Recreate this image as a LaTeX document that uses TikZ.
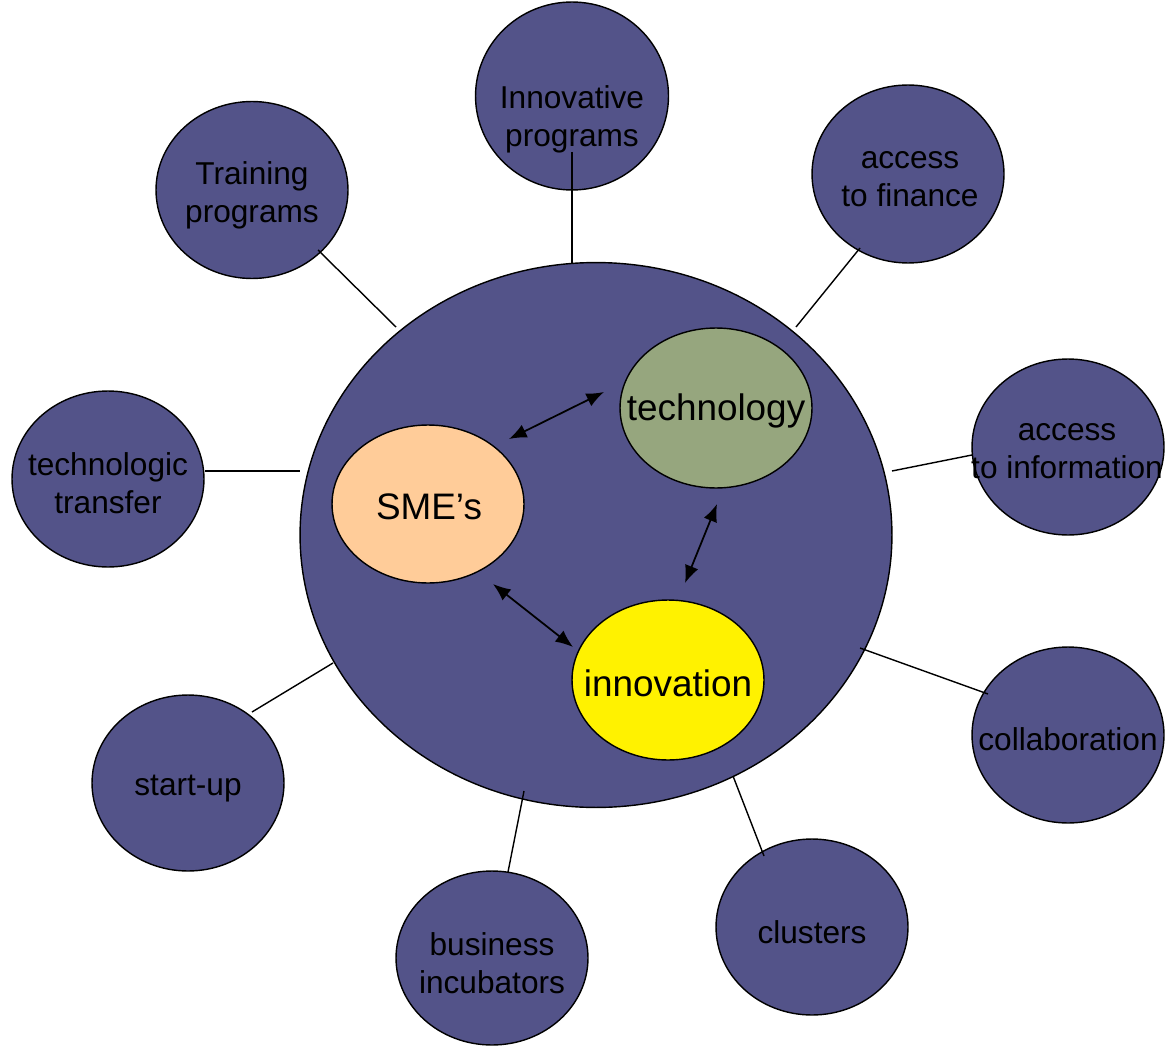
\documentclass[tikz,border=0pt]{standalone}
\usepackage{fontspec}
\setmainfont{Liberation Sans}
\usetikzlibrary{shapes.geometric,arrows.meta}
\definecolor{bigblue}{RGB}{83,83,137}
\definecolor{peach}{RGB}{255,204,153}
\definecolor{techgreen}{RGB}{150,166,126}
\tikzset{
  x=0.02cm, y=-0.02cm,
  bub/.style={ellipse, draw=black, line width=0.8pt, fill=bigblue, inner sep=0pt,
    minimum width=3.84cm, minimum height=3.52cm},
  core/.style={ellipse, draw=black, line width=0.8pt, inner sep=0pt,
    minimum width=3.84cm, minimum height=3.2cm},
  lbl/.style={align=center, inner sep=0pt, font=\fontsize{18}{21.5}\selectfont},
  corelbl/.style={align=center, inner sep=0pt, font=\fontsize{21}{25}\selectfont},
  link/.style={draw=black, line width=0.8pt},
  dbl/.style={draw=black, line width=1pt, {Latex[length=10pt,width=8pt]}-{Latex[length=10pt,width=8pt]}}
}
\begin{document}
\begin{tikzpicture}
\useasboundingbox (0,0) rectangle (1168,1047);
% outer bubbles
\node[bub, minimum width=3.86cm, minimum height=3.76cm] (inn) at (572,96) {};
\node[bub, minimum height=3.54cm] (trn) at (252,190) {};
\node[bub, minimum height=3.56cm] (fin) at (908,174) {};
\node[bub] (tt) at (108,479) {};
\node[bub] (info) at (1068,447) {};
\node[bub] (col) at (1068,735) {};
\node[bub] (su) at (188,783) {};
\node[bub, minimum height=3.48cm] (bi) at (492,958) {};
\node[bub] (cl) at (812,927) {};
% big circle
\node[ellipse, draw=black, line width=0.8pt, fill=bigblue, inner sep=0pt,
  minimum width=11.84cm, minimum height=10.9cm] (big) at (596,535) {};
% core ellipses
\node[core, fill=peach, minimum height=3.16cm] (sme) at (428,504) {};
\node[core, fill=techgreen] (tech) at (716,408) {};
\node[core, fill=yellow] (innov) at (668,680) {};
% labels
\node[lbl] (innL) at (572,119.5) {Innovative\\programs};
\node[lbl] (trnL) at (252,195.5) {Training\\programs};
\node[lbl] (finL) at (910,179.5) {access\\to finance};
\node[lbl] (ttL) at (108,483) {technologic\\transfer};
\node[lbl] (infoL) at (1067,451.5) {access\\to information};
\node[lbl] (colL) at (1068,739) {collaboration};
\node[lbl] (suL) at (188,789) {start-up};
\node[lbl] (biL) at (492,963) {business\\incubators};
\node[lbl] (clL) at (812,932) {clusters};
\node[corelbl] (smeL) at (429,507) {SME’s};
\node[corelbl] (techL) at (716,411) {technology};
\node[corelbl] (innovL) at (668,683) {innovation};
% connector end points
\coordinate (innA) at (572,152); \coordinate (innB) at (572,263);
\coordinate (trnA) at (318,250); \coordinate (trnB) at (396,327);
\coordinate (finA) at (860,248); \coordinate (finB) at (796,327);
\coordinate (ttA) at (205,471);  \coordinate (ttB) at (300,471);
\coordinate (infoA) at (972,455); \coordinate (infoB) at (892,471);
\coordinate (colA) at (988,694); \coordinate (colB) at (860,648);
\coordinate (suA) at (252,712);  \coordinate (suB) at (333,663);
\coordinate (biA) at (508,872);  \coordinate (biB) at (524,791);
\coordinate (clA) at (764,856);  \coordinate (clB) at (733,776);
\draw[link] (innA) -- (innB);
\draw[link] (trnA) -- (trnB);
\draw[link] (finA) -- (finB);
\draw[link] (ttA) -- (ttB);
\draw[link] (infoA) -- (infoB);
\draw[link] (colA) -- (colB);
\draw[link] (suA) -- (suB);
\draw[link] (biA) -- (biB);
\draw[link] (clA) -- (clB);
% arrows
\coordinate (a1s) at (509,439); \coordinate (a1t) at (604,392);
\coordinate (a2s) at (717,504); \coordinate (a2t) at (685,583);
\coordinate (a3s) at (493,584); \coordinate (a3t) at (573,647);
\draw[dbl] (a1s) -- (a1t);
\draw[dbl] (a2s) -- (a2t);
\draw[dbl] (a3s) -- (a3t);
\end{tikzpicture}
\end{document}
